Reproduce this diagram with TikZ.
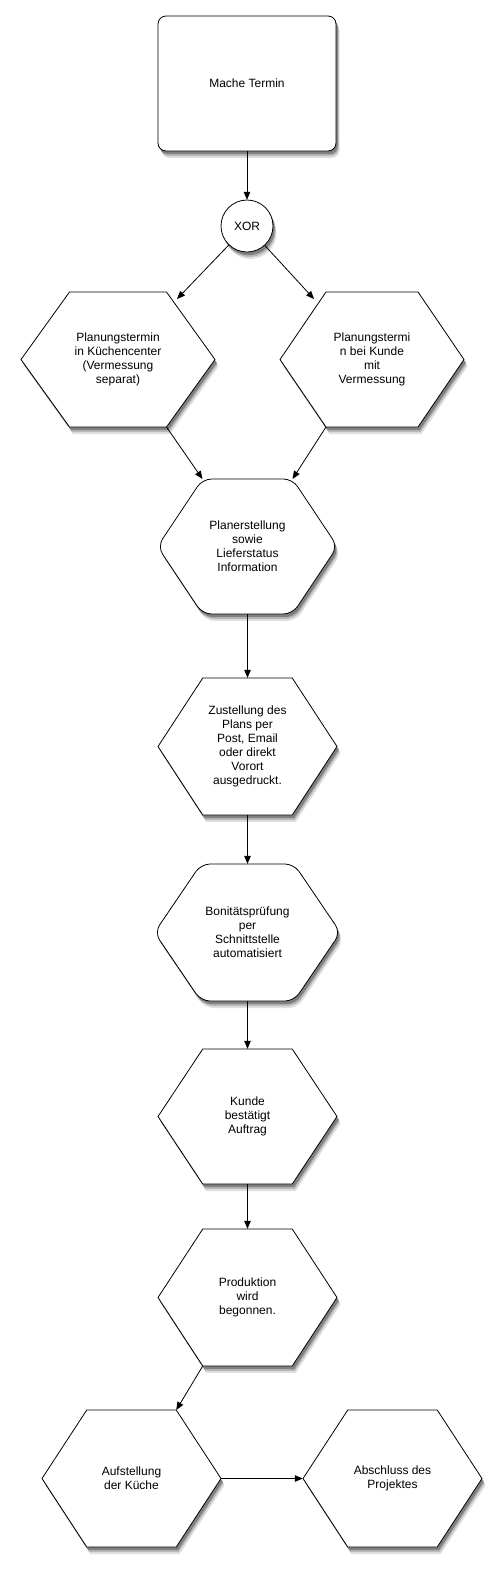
\documentclass[tikz,border=0pt]{standalone}
\usepackage{fontspec}
\setmainfont{Liberation Sans}
\usetikzlibrary{calc,arrows.meta}
\tikzset{
  shapeline/.style={draw=black, line width=0.8pt, fill=white},
  txt/.style={align=center, inner sep=0pt, font=\fontsize{12}{14}\selectfont},
  arr/.style={draw=black, line width=0.8pt, -{Triangle[length=8pt,width=6.5pt]}},
}
% shadow layers: #1 = path (with its options inside)
\newcommand\shadowlayers[1]{%
  \begin{scope}[xshift=3.5pt, yshift=-7pt]\fill[black!12] #1;\end{scope}
  \begin{scope}[xshift=2.6pt, yshift=-5pt]\fill[black!28] #1;\end{scope}
  \begin{scope}[xshift=1.8pt, yshift=-3.2pt]\fill[black!50] #1;\end{scope}
}
% #2 cx, #3 cy, #4 w, #5 h
\newcommand\hexpath[5]{({#2-#4/2},{#3}) -- ({#2-#4/4},{#3-#5/2}) -- ({#2+#4/4},{#3-#5/2})
     -- ({#2+#4/2},{#3}) -- ({#2+#4/4},{#3+#5/2}) -- ({#2-#4/4},{#3+#5/2}) -- cycle}
% #1 path options, #2 name, #3 cx, #4 cy, #5 w, #6 h, #7 text
\newcommand\hexnode[7][]{%
  \shadowlayers{[#1] \hexpath{}{#3}{#4}{#5}{#6}}
  \path[shapeline,#1] \hexpath{}{#3}{#4}{#5}{#6};
  \node[txt, minimum width=#5, minimum height=#6] (#2) at (#3,#4) {#7};
  \coordinate (#2-tl) at ({#3-#5/4},{#4-#6/2});
  \coordinate (#2-tr) at ({#3+#5/4},{#4-#6/2});
  \coordinate (#2-bl) at ({#3-#5/4},{#4+#6/2});
  \coordinate (#2-br) at ({#3+#5/4},{#4+#6/2});
}
\begin{document}
\begin{tikzpicture}[x=1pt,y=-1pt]
\fill[white] (0,0) rectangle (502,1572);
\useasboundingbox (0,0) rectangle (502,1572);

% top box
\shadowlayers{[rounded corners=8pt] (158,16) rectangle (336,151)}
\path[shapeline, rounded corners=8pt] (158,16) rectangle (336,151);
\node[txt, minimum width=178, minimum height=135] (mt) at (247,83.5) {Mache Termin};

% XOR
\shadowlayers{(247,226) circle (26)}
\path[shapeline] (247,226) circle (26);
\node[txt, circle, minimum size=52] (xor) at (247,226) {XOR};

\hexnode{h1}{118}{359.5}{194}{135}{Planungstermin\\in Küchencenter\\(Vermessung\\separat)}
\hexnode{h2}{372}{359.5}{184}{135}{Planungstermi\\n bei Kunde\\mit\\Vermessung}
\hexnode[rounded corners=9pt]{pe}{247.5}{546.5}{180}{135}{Planerstellung\\sowie\\Lieferstatus\\Information}
\hexnode{zu}{247.5}{746.5}{179}{137}{Zustellung des\\Plans per\\Post, Email\\oder direkt\\Vorort\\ausgedruckt.}
\hexnode[rounded corners=9pt]{bo}{247.5}{932.5}{186}{137}{Bonitätsprüfung\\per\\Schnittstelle\\automatisiert}
\hexnode{ku}{247.5}{1116.5}{179}{135}{Kunde\\bestätigt\\Auftrag}
\hexnode{pr}{247.5}{1297.5}{179}{137}{Produktion\\wird\\begonnen.}
\hexnode{au}{131.5}{1478.5}{179}{137}{Aufstellung\\der Küche}
\hexnode{ab}{392.5}{1478.5}{179}{137}{Abschluss des\\Projektes}

\coordinate (xl) at (177,299);
\coordinate (xr) at (314,299);

\draw[arr] (mt.south) -- (xor.north);
\draw[arr] (xor) -- (xl);
\draw[arr] (xor) -- (xr);
\draw[arr] (h1-br) -- (pe-tl);
\draw[arr] (h2-bl) -- (pe-tr);
\draw[arr] (pe.south) -- (zu.north);
\draw[arr] (zu.south) -- (bo.north);
\draw[arr] (bo.south) -- (ku.north);
\draw[arr] (ku.south) -- (pr.north);
\draw[arr] (pr-bl) -- (au-tr);
\draw[arr] (au.east) -- (ab.west);
\end{tikzpicture}
\end{document}
